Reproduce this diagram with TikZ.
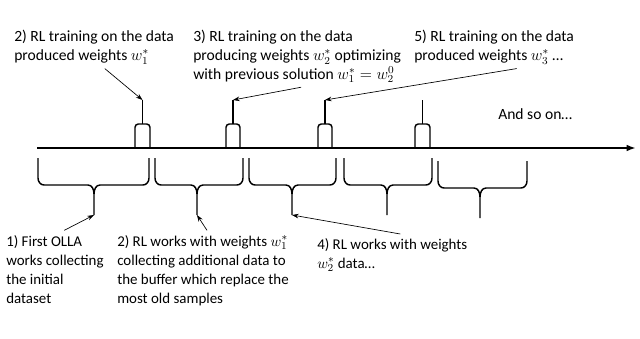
\documentclass[tikz,border=0pt]{standalone}
\usepackage{fontspec}
\setmainfont{Carlito}
\usetikzlibrary{positioning, arrows.meta}

\begin{document}
\begin{tikzpicture}[
    x=0.75pt, y=-0.75pt,
    timeline/.style={line width=1.6pt, -{Latex[length=7pt,width=5pt]}},
    pulse/.style={line width=1.1pt, rounded corners=2.5pt},
    brace/.style={line width=1.1pt},
    note/.style={
        font=\fontsize{11.7}{14}\selectfont,
        align=left,
        anchor=north west,
        inner sep=0pt
    },
    lownote/.style={note, font=\fontsize{11.2}{14.3}\selectfont},
    pointer/.style={-{Stealth[length=5pt,width=3.5pt]}, line width=0.5pt}
]
\useasboundingbox (0,0) rectangle (640,339);

% === Time axis ===
\coordinate (start) at (37,148);
\coordinate (end) at (636,148);
\draw[timeline] (start) -- (end);

% === RL training pulses ===
\foreach \xl/\xr/\nm in {135/150/p1, 226/240/p2, 318/332/p3, 415/430/p4}{
    \draw[pulse] (\xl,148) -- (\xl,124) -- (\xr,124) -- (\xr,148);
    \draw[pulse] ({(\xl+\xr)/2},124) -- ({(\xl+\xr)/2},100) coordinate (\nm);
}

% === Data collection phases ===
\foreach \xl/\xr/\xm/\dy/\nm in {38/149/94/0/b1, 155/243/197/0/b2, 249/336/292/0/b3, 344/432/387/0/b4, 438/527/480/3/b5}{
    \draw[brace] (\xl,158+\dy) -- (\xl,178+\dy) to[out=-90,in=180] (\xl+6,185+\dy)
        -- (\xm-6,185+\dy) to[out=0,in=90] (\xm,194+\dy) -- (\xm,215+\dy) coordinate (\nm);
    \draw[brace] (\xm,194+\dy) to[out=90,in=180] (\xm+6,185+\dy)
        -- (\xr-6,185+\dy) to[out=0,in=-90] (\xr,178+\dy) -- (\xr,158+\dy);
}

% === Labels above ===
\node[note] (train1) at (14,30) {2) RL training on the data\\produced weights $w_1^*$};
\node[note] (train2) at (193,30) {3) RL training on the data\\producing weights $w_2^*$ optimizing\\with previous solution $w_1^* = w_2^0$};
\node[note] (train3) at (414,30) {5) RL training on the data\\produced weights $w_3^*$ …};
\node[note] (more) at (498,108) {And so on…};

% === Labels below ===
\node[lownote] (collect1) at (6,235) {1) First OLLA\\works collecting\\the initial\\dataset};
\node[lownote] (collect2) at (117,235) {2) RL works with weights $w_1^*$\\collecting additional data to\\the buffer which replace the\\most old samples};
\node[lownote] (collect3) at (317,238) {4) RL works with weights\\$w_2^*$ data…};

% === Pointers ===
\draw[pointer] ([xshift=8pt,yshift=-3pt]train1.south) -- (p1);
\draw[pointer] ([xshift=3pt,yshift=-3pt]train2.south) -- (p2);
\draw[pointer] ([xshift=17pt,yshift=-3pt]train3.south) -- (p3);
\draw[pointer] ([xshift=7pt,yshift=3.5pt]collect1.north) -- (b1);
\draw[pointer] ([xshift=3pt,yshift=3.5pt]collect2.north) -- (b2);
\draw[pointer] ([xshift=6pt,yshift=3pt]collect3.north) -- (b3);

\end{tikzpicture}
\end{document}
